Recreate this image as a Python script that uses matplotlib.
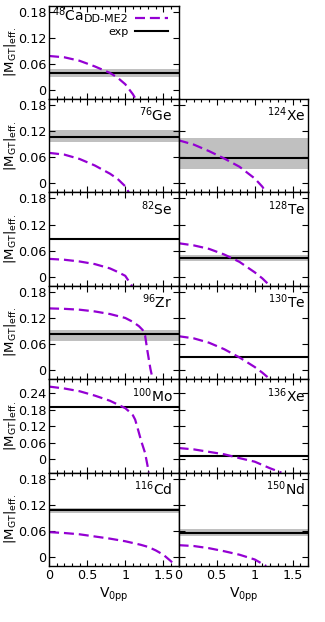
import matplotlib
matplotlib.use('Agg')
import matplotlib.pyplot as plt
from matplotlib.ticker import MultipleLocator, FormatStrFormatter
from matplotlib.lines import Line2D

plt.rcParams['font.family'] = 'DejaVu Sans'
plt.rcParams['mathtext.fontset'] = 'dejavusans'
plt.rcParams['font.size'] = 9

# V0pp grid points and DD-ME2 |M_GT|eff. values
v_ca48 = [0, 0.2, 0.4, 0.6, 0.8, 0.9, 1.0, 1.1, 1.15]
m_ca48 = [0.078, 0.075, 0.067, 0.054, 0.039, 0.028, 0.013, -0.010, -0.025]
v_ge76 = [0, 0.2, 0.4, 0.6, 0.8, 0.9, 1.0, 1.05]
m_ge76 = [0.070, 0.066, 0.056, 0.041, 0.022, 0.010, -0.007, -0.022]
v_xe124 = [0, 0.2, 0.4, 0.6, 0.8, 1.0, 1.1, 1.15]
m_xe124 = [0.099, 0.089, 0.074, 0.057, 0.038, 0.011, -0.008, -0.022]
v_se82 = [0, 0.2, 0.4, 0.6, 0.8, 0.9, 1.0, 1.09]
m_se82 = [0.041, 0.039, 0.035, 0.029, 0.019, 0.011, 0.002, -0.022]
v_te128 = [0, 0.2, 0.4, 0.6, 0.8, 1.0, 1.1, 1.2]
m_te128 = [0.077, 0.072, 0.064, 0.051, 0.034, 0.010, -0.004, -0.021]
v_zr96 = [0, 0.2, 0.4, 0.6, 0.8, 1.0, 1.1, 1.18, 1.23, 1.26, 1.29, 1.33, 1.36]
m_zr96 = [0.142, 0.141, 0.139, 0.135, 0.129, 0.120, 0.111, 0.101, 0.092, 0.080, 0.045, 0.003, -0.021]
v_te130 = [0, 0.2, 0.4, 0.6, 0.8, 1.0, 1.1, 1.2]
m_te130 = [0.078, 0.073, 0.063, 0.048, 0.029, 0.007, -0.006, -0.021]
v_mo100 = [0, 0.2, 0.4, 0.6, 0.8, 1.0, 1.05, 1.1, 1.13, 1.17, 1.21, 1.26, 1.31]
m_mo100 = [0.265, 0.258, 0.248, 0.232, 0.213, 0.186, 0.174, 0.160, 0.144, 0.105, 0.065, 0.022, -0.050]
v_xe136 = [0, 0.2, 0.4, 0.6, 0.8, 1.0, 1.2, 1.35]
m_xe136 = [0.040, 0.035, 0.026, 0.017, 0.003, -0.010, -0.034, -0.050]
v_cd116 = [0, 0.2, 0.4, 0.6, 0.8, 1.0, 1.2, 1.3, 1.4, 1.5, 1.6, 1.66]
m_cd116 = [0.057, 0.055, 0.052, 0.047, 0.042, 0.036, 0.028, 0.023, 0.015, 0.005, -0.010, -0.021]
v_nd150 = [0, 0.2, 0.4, 0.6, 0.8, 1.0, 1.15]
m_nd150 = [0.027, 0.025, 0.020, 0.013, 0.005, -0.006, -0.021]

# experimental values and the grey error band
exp_ca48, band_ca48 = 0.038, (0.030, 0.047)
exp_ge76, band_ge76 = 0.106, (0.095, 0.123)
exp_xe124, band_xe124 = 0.059, (0.033, 0.104)
exp_se82, band_se82 = 0.087, (0.086, 0.088)
exp_te128, band_te128 = 0.044, (0.036, 0.051)
exp_zr96, band_zr96 = 0.083, (0.068, 0.092)
exp_te130, band_te130 = 0.029, (0.028, 0.030)
exp_mo100, band_mo100 = 0.190, (0.188, 0.192)
exp_xe136, band_xe136 = 0.011, (0.010, 0.012)
exp_cd116, band_cd116 = 0.108, (0.101, 0.112)
exp_nd150, band_nd150 = 0.055, (0.047, 0.065)

panels = [
    # row, col, label, V, M, exp, band
    (0, 0, r'$^{48}$Ca', v_ca48, m_ca48, exp_ca48, band_ca48),
    (1, 0, r'$^{76}$Ge', v_ge76, m_ge76, exp_ge76, band_ge76),
    (1, 1, r'$^{124}$Xe', v_xe124, m_xe124, exp_xe124, band_xe124),
    (2, 0, r'$^{82}$Se', v_se82, m_se82, exp_se82, band_se82),
    (2, 1, r'$^{128}$Te', v_te128, m_te128, exp_te128, band_te128),
    (3, 0, r'$^{96}$Zr', v_zr96, m_zr96, exp_zr96, band_zr96),
    (3, 1, r'$^{130}$Te', v_te130, m_te130, exp_te130, band_te130),
    (4, 0, r'$^{100}$Mo', v_mo100, m_mo100, exp_mo100, band_mo100),
    (4, 1, r'$^{136}$Xe', v_xe136, m_xe136, exp_xe136, band_xe136),
    (5, 0, r'$^{116}$Cd', v_cd116, m_cd116, exp_cd116, band_cd116),
    (5, 1, r'$^{150}$Nd', v_nd150, m_nd150, exp_nd150, band_nd150),
]

purple = '#9400d3'
xmax = 1.7
dash = (4.5, 2.2)

fig = plt.figure(figsize=(3.25, 6.22), dpi=100)
gs = fig.add_gridspec(6, 2, left=0.151, right=0.948, top=0.991, bottom=0.09,
                      hspace=0, wspace=0)

for row, col, label, v, m, ex, band in panels:
    ax = fig.add_subplot(gs[row, col])
    ax.fill_between([0, xmax], band[0], band[1], color='#c0c0c0', lw=0)
    ax.axhline(ex, color='black', lw=1.5)
    ax.plot(v, m, color=purple, lw=1.6, dashes=dash)

    ax.set_xlim(0, xmax)
    if row == 4:
        ax.set_ylim(-0.05, 0.292)
        ax.set_yticks([0, 0.06, 0.12, 0.18, 0.24])
    else:
        ax.set_ylim(-0.021, 0.194)
        ax.set_yticks([0, 0.06, 0.12, 0.18])
    ax.xaxis.set_major_locator(MultipleLocator(0.5))
    ax.xaxis.set_minor_locator(MultipleLocator(0.1))
    ax.xaxis.set_major_formatter(FormatStrFormatter('%g'))
    ax.yaxis.set_major_formatter(FormatStrFormatter('%g'))
    ax.tick_params(which='both', direction='in', top=True, right=True, width=0.8,
                   labelsize=9.2)
    ax.tick_params(which='major', length=4, pad=2)
    ax.tick_params(which='minor', length=2)
    for s in ax.spines.values():
        s.set_linewidth(1.0)

    if col == 1:
        ax.tick_params(labelleft=False)
    else:
        ax.set_ylabel(r'$|\mathrm{M}_{\mathrm{GT}}|_{\mathrm{eff.}}$', labelpad=0,
                      fontsize=9.5)
    if row != 5:
        ax.tick_params(labelbottom=False)
    else:
        ax.set_xlabel(r'$\mathrm{V}_{\mathrm{0pp}}$', labelpad=3, fontsize=10)

    if row == 0:
        ax.text(0.02, 0.83, label, transform=ax.transAxes, ha='left',
                va='baseline', fontsize=10)
        handles = [Line2D([], [], color=purple, lw=1.6, dashes=dash),
                   Line2D([], [], color='black', lw=1.5)]
        ax.legend(handles, ['DD-ME2', 'exp'], loc='upper right',
                  bbox_to_anchor=(0.985, 1.0), frameon=False,
                  markerfirst=False, handlelength=3.0, handletextpad=0.6,
                  labelspacing=0.27, borderaxespad=0.35, fontsize=8)
    else:
        xr = 0.953 if col == 0 else 0.977
        ax.text(xr, 0.76, label, transform=ax.transAxes, ha='right',
                va='baseline', fontsize=10)

fig.savefig('out.png', dpi=100)
